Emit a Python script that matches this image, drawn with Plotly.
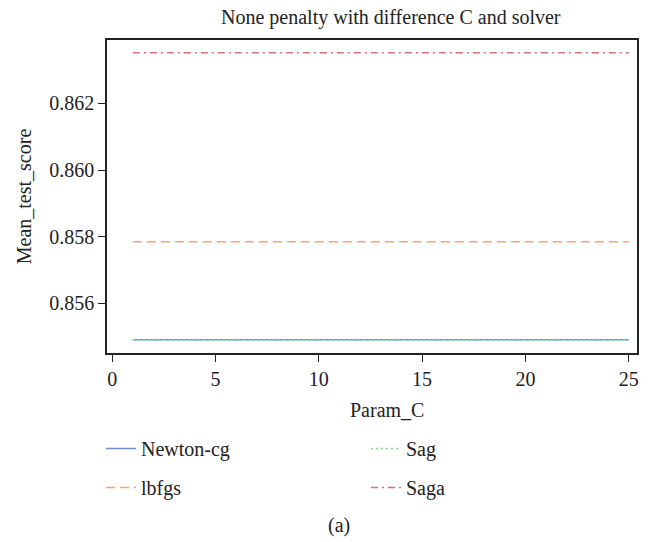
import plotly.graph_objects as go

param_c = list(range(1, 26))
solvers = ["Newton-cg", "lbfgs", "Sag", "Saga"]
scores = {
    "Newton-cg": [0.85491] * 25,
    "lbfgs": [0.85785] * 25,
    "Sag": [0.85491] * 25,
    "Saga": [0.86352] * 25,
}
colors = {
    "Newton-cg": "rgba(80,125,200,0.85)",
    "Sag": "rgba(130,215,130,0.95)",
    "lbfgs": "rgba(235,135,90,0.75)",
    "Saga": "rgba(200,65,70,0.75)",
}
dashes = {
    "Newton-cg": "solid",
    "Sag": "2px,3px",
    "lbfgs": "9px,5px",
    "Saga": "7px,4px,2px,4px",
}
legend_of = {"Newton-cg": "legend", "lbfgs": "legend", "Sag": "legend2", "Saga": "legend2"}
x_ticks = [0, 5, 10, 15, 20, 25]
y_ticks = [0.856, 0.858, 0.860, 0.862]

FONT = "Liberation Serif"
FS = 20
TXT = "#222"

L, R, T, B = 107, 35, 40, 189
W, H = 672, 542
plot_w = W - L - R
plot_h = H - T - B


def px_x(px):
    return (px - L) / plot_w


def px_y(py):
    return (H - B - py) / plot_h


fig = go.Figure()
for s in solvers:
    fig.add_trace(go.Scatter(
        x=param_c, y=scores[s], mode="lines", name=s,
        legend=legend_of[s], legendgroup=s,
        line=dict(color=colors[s], width=1.5, dash=dashes[s]),
    ))

leg_common = dict(
    orientation="v", yanchor="top", xanchor="left",
    itemwidth=30, tracegroupgap=10, bgcolor="rgba(0,0,0,0)",
    font=dict(family=FONT, size=FS, color=TXT),
)
fig.update_layout(
    width=W, height=H,
    margin=dict(l=L, r=R, t=T, b=B),
    paper_bgcolor="white", plot_bgcolor="white",
    font=dict(family=FONT, size=FS, color=TXT),
    showlegend=True,
    legend=dict(x=px_x(101), y=px_y(429), **leg_common),
    legend2=dict(x=px_x(366), y=px_y(429), **leg_common),
    annotations=[
        dict(text="None penalty with difference C and solver", x=px_x(391), y=px_y(17),
             xref="paper", yref="paper", showarrow=False, xanchor="center", yanchor="middle",
             font=dict(family=FONT, size=FS, color=TXT)),
        dict(text="Param_C", x=px_x(387), y=px_y(410), xref="paper", yref="paper",
             showarrow=False, xanchor="center", yanchor="middle",
             font=dict(family=FONT, size=FS, color=TXT)),
        dict(text="(a)", x=px_x(339), y=px_y(525), xref="paper", yref="paper",
             showarrow=False, xanchor="center", yanchor="middle",
             font=dict(family=FONT, size=FS, color=TXT)),
    ],
)

fig.update_xaxes(
    range=[-0.25, 25.4], tickvals=x_ticks, showgrid=False, zeroline=False,
    showline=True, linecolor=TXT, linewidth=1.5, mirror=True,
    ticks="outside", ticklen=7, tickcolor=TXT,
    tickfont=dict(family=FONT, size=FS, color=TXT),
)
fig.update_yaxes(
    range=[0.85451, 0.8639], tickvals=y_ticks, tickformat=".3f",
    showgrid=False, zeroline=False,
    showline=True, linecolor=TXT, linewidth=1.5, mirror=True,
    ticks="outside", ticklen=7, tickcolor=TXT,
    tickfont=dict(family=FONT, size=FS, color=TXT),
    title=dict(text="Mean_test_score", font=dict(family=FONT, size=FS, color=TXT), standoff=12),
)

fig.write_html("out.html")
